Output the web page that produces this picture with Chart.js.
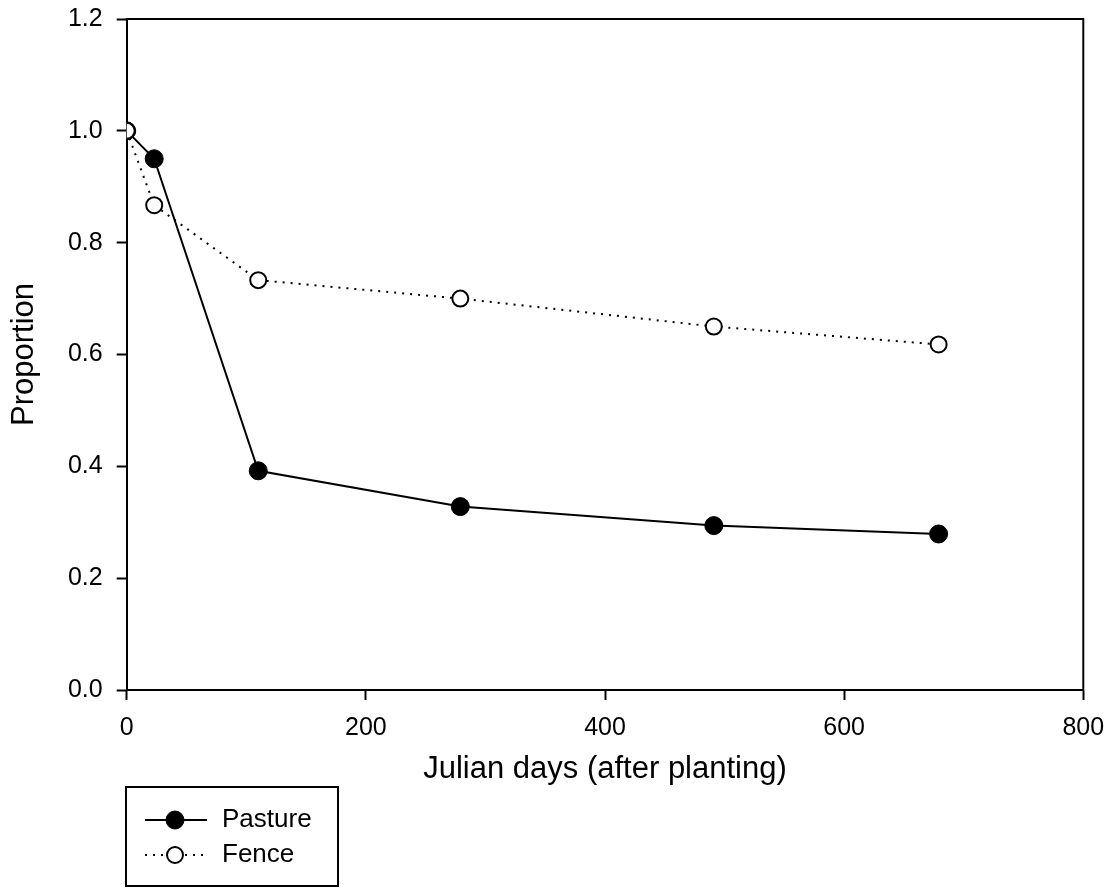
<!DOCTYPE html>
<html>
<head>
<meta charset="utf-8">
<script src="https://cdn.jsdelivr.net/npm/chart.js@4"></script>
<style>
  html, body { margin: 0; padding: 0; background: #fff; }
  #c { display: block; }
</style>
</head>
<body>
<canvas id="c" width="1118" height="888"></canvas>
<script>
// ---- data ----
const seriesNames = ["Pasture", "Fence"];
const days = [0, 23, 110, 279, 491, 679];
const pastureValues = [1.0, 0.95, 0.392, 0.328, 0.294, 0.279];
const fenceValues = [1.0, 0.867, 0.733, 0.700, 0.650, 0.618];
const xTicks = [0, 200, 400, 600, 800];
const yTicks = [0.0, 0.2, 0.4, 0.6, 0.8, 1.0, 1.2];
const xTitle = "Julian days (after planting)";
const yTitle = "Proportion";

const FONT = '"Liberation Sans", Arial, Helvetica, sans-serif';

function toPoints(xs, ys) { return xs.map((x, i) => ({ x: x, y: ys[i] })); }

const framePlugin = {
  id: 'frame',
  afterDraw(chart) {
    const { ctx, chartArea: a } = chart;
    ctx.save();
    ctx.strokeStyle = '#000';
    ctx.lineWidth = 2;
    ctx.beginPath();
    ctx.moveTo(a.left - 1, a.top);
    ctx.lineTo(a.right, a.top);
    ctx.lineTo(a.right, a.bottom + 1);
    ctx.stroke();
    ctx.restore();
  }
};

const legendPlugin = {
  id: 'boxLegend',
  afterDraw(chart) {
    const ctx = chart.ctx;
    const bx = 126, by = 787, bw = 212, bh = 99;
    ctx.save();
    ctx.strokeStyle = '#000';
    ctx.lineWidth = 2;
    ctx.strokeRect(bx, by, bw, bh);
    const rows = [820, 855];
    chart.data.datasets.forEach((ds, i) => {
      const y = rows[i];
      ctx.strokeStyle = ds.borderColor;
      ctx.lineWidth = ds.borderWidth;
      ctx.setLineDash(ds.borderDash || []);
      ctx.beginPath();
      ctx.moveTo(145, y);
      ctx.lineTo(207, y);
      ctx.stroke();
      ctx.setLineDash([]);
      ctx.beginPath();
      ctx.arc(175, y, ds.pointRadius, 0, Math.PI * 2);
      ctx.fillStyle = ds.pointBackgroundColor;
      ctx.fill();
      ctx.lineWidth = ds.pointBorderWidth;
      ctx.strokeStyle = ds.pointBorderColor;
      ctx.stroke();
      ctx.fillStyle = '#000';
      ctx.font = '26px ' + FONT;
      ctx.textBaseline = 'middle';
      ctx.textAlign = 'left';
      ctx.fillText(ds.label, 222, y);
    });
    ctx.restore();
  }
};

new Chart(document.getElementById('c'), {
  type: 'line',
  data: {
    datasets: [
      {
        label: seriesNames[0],
        data: toPoints(days, pastureValues),
        borderColor: '#000',
        borderWidth: 2,
        pointRadius: 9,
        pointBackgroundColor: '#000',
        pointBorderColor: '#000',
        pointBorderWidth: 1,
        tension: 0,
        order: 1
      },
      {
        label: seriesNames[1],
        data: toPoints(days, fenceValues),
        borderColor: '#000',
        borderWidth: 2,
        borderDash: [2, 6],
        pointRadius: 8,
        pointBackgroundColor: '#fff',
        pointBorderColor: '#000',
        pointBorderWidth: 2,
        tension: 0,
        order: 0
      }
    ]
  },
  options: {
    responsive: false,
    animation: false,
    events: [],
    layout: { padding: { left: 0, top: 19, right: 34.7, bottom: 98 } },
    plugins: {
      legend: { display: false },
      tooltip: { enabled: false }
    },
    scales: {
      x: {
        type: 'linear',
        min: xTicks[0],
        max: xTicks[xTicks.length - 1],
        afterFit(scale) {
          scale.height = 100;
          scale.paddingLeft = 0;
          scale.paddingRight = 0;
        },
        afterBuildTicks(scale) { scale.ticks = xTicks.map(v => ({ value: v })); },
        ticks: {
          color: '#000',
          font: { family: FONT, size: 25 },
          padding: 13,
          maxRotation: 0,
          callback: v => String(v)
        },
        grid: {
          drawOnChartArea: false,
          drawTicks: true,
          tickLength: 10,
          tickWidth: 2,
          tickColor: '#000'
        },
        border: { display: true, color: '#000', width: 2 },
        title: {
          display: true,
          text: xTitle,
          color: '#000',
          font: { family: FONT, size: 31 },
          padding: { top: 0, bottom: 2 }
        }
      },
      y: {
        type: 'linear',
        min: yTicks[0],
        max: yTicks[yTicks.length - 1],
        afterFit(scale) {
          scale.width = 126.7;
          scale.paddingTop = 0;
          scale.paddingBottom = 0;
        },
        afterBuildTicks(scale) { scale.ticks = yTicks.map(v => ({ value: v })); },
        ticks: {
          color: '#000',
          font: { family: FONT, size: 25 },
          padding: 14,
          callback: v => Number(v).toFixed(1)
        },
        grid: {
          drawOnChartArea: false,
          drawTicks: true,
          tickLength: 10,
          tickWidth: 2,
          tickColor: '#000'
        },
        border: { display: true, color: '#000', width: 2 },
        title: {
          display: true,
          text: yTitle,
          color: '#000',
          font: { family: FONT, size: 31 },
          padding: { top: 6, bottom: 0 }
        }
      }
    }
  },
  plugins: [framePlugin, legendPlugin]
});
</script>
</body>
</html>
